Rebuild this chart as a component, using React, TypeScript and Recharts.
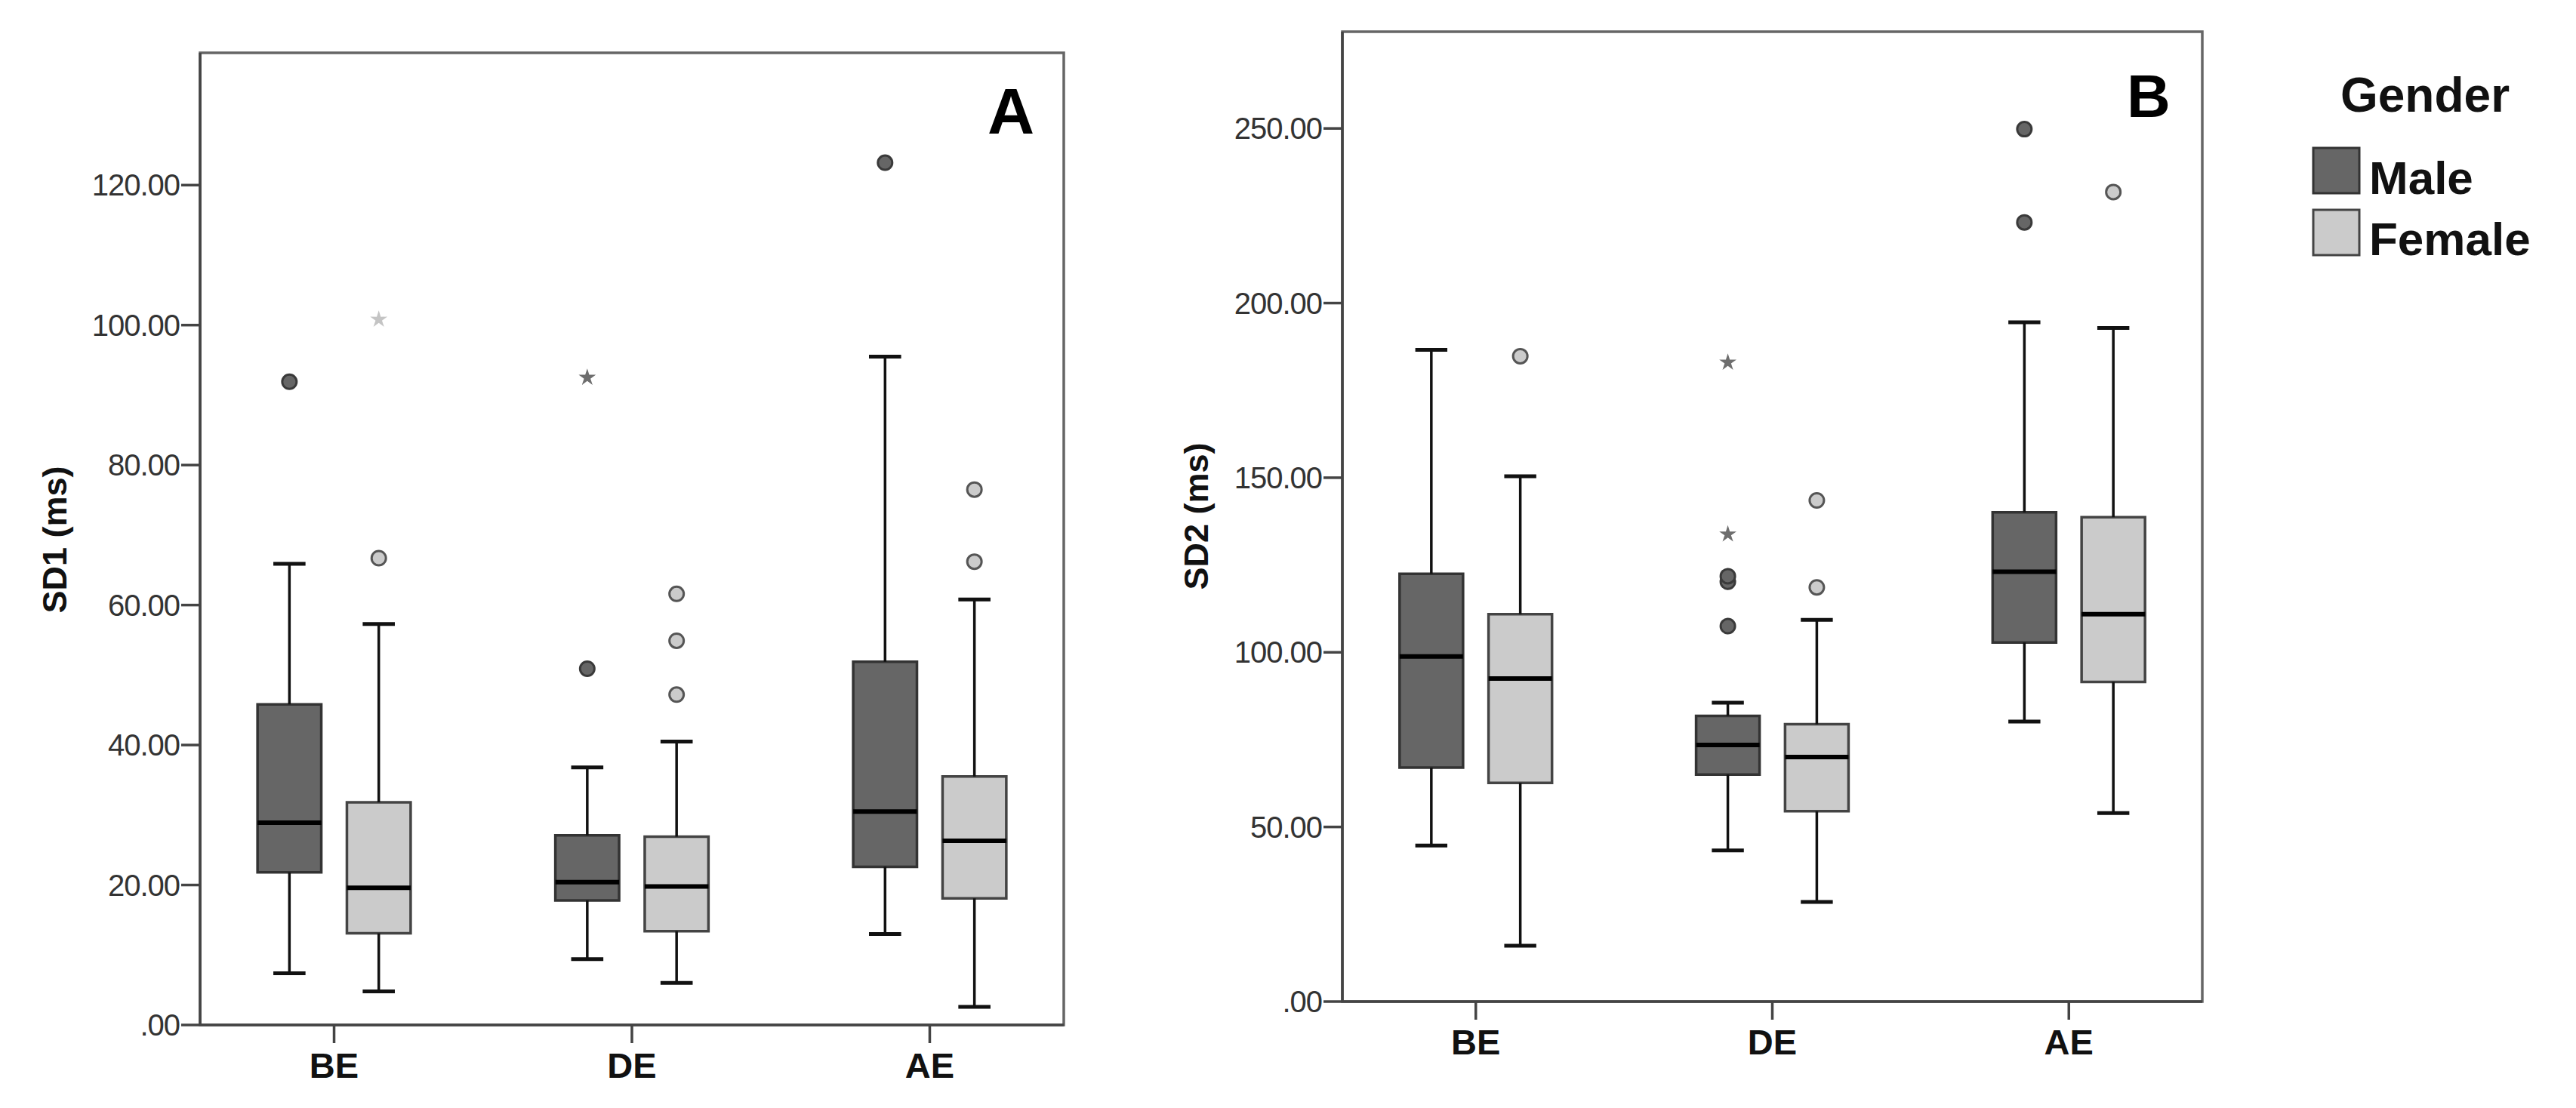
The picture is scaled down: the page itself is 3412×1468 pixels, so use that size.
import React from "react";
import {
  ComposedChart,
  XAxis,
  YAxis,
  Scatter,
  ReferenceArea,
  ReferenceLine,
} from "recharts";

// phases on the x axis
const CATEGORIES = ["BE", "DE", "AE"];

// five-number summaries: [min, q1, median, q3, max]
const SD1_MALE = [
  [7.4, 21.8, 28.9, 45.8, 65.9],
  [9.4, 17.8, 20.4, 27.1, 36.8],
  [13.0, 22.6, 30.5, 51.9, 95.5],
];
const SD1_FEMALE = [
  [4.8, 13.1, 19.6, 31.8, 57.3],
  [6.0, 13.4, 19.8, 26.9, 40.5],
  [2.6, 18.1, 26.3, 35.5, 60.8],
];
const SD2_MALE = [
  [44.7, 67.0, 98.8, 122.5, 186.6],
  [43.3, 65.0, 73.5, 81.8, 85.6],
  [80.2, 102.8, 123.1, 140.1, 194.5],
];
const SD2_FEMALE = [
  [16.0, 62.6, 92.5, 110.9, 150.4],
  [28.5, 54.5, 70.0, 79.4, 109.3],
  [54.0, 91.5, 110.9, 138.7, 192.9],
];

// outliers per category: circles (mild) and stars (extreme)
const SD1_MALE_CIRCLES = [[91.9], [50.9], [123.2]];
const SD1_MALE_STARS = [[], [92.5], []];
const SD1_FEMALE_CIRCLES = [[66.7], [47.2, 54.9, 61.6], [66.2, 76.5]];
const SD1_FEMALE_STARS = [[100.8], [], []];
const SD2_MALE_CIRCLES = [[], [107.5, 120.2, 121.8], [223.1, 249.8]];
const SD2_MALE_STARS = [[], [133.8, 183.0], []];
const SD2_FEMALE_CIRCLES = [[184.8], [118.6, 143.5], [231.8]];
const SD2_FEMALE_STARS = [[], [], []];

const SD1_TICKS = [0, 20, 40, 60, 80, 100, 120];
const SD2_TICKS = [0, 50, 100, 150, 200, 250];

const SERIES = [
  { name: "Male", fill: "#666666", stroke: "#333333", offset: -0.15, starFill: "#6e6e6e" },
  { name: "Female", fill: "#cbcbcb", stroke: "#444444", offset: 0.15, starFill: "#c4c4c4" },
];

const HALF_BOX = 0.107;
const HALF_CAP = 0.054;
const X_DOMAIN = [-0.45, 2.45];
const FONT = "'Liberation Sans', Arial, sans-serif";

function fmtTick(v: number) {
  return v === 0 ? ".00" : v.toFixed(2);
}

function outlierPoints(circles: number[][], stars: number[][], offset: number) {
  const pts: { x: number; y: number; star: boolean }[] = [];
  circles.forEach((list, i) => list.forEach((y) => pts.push({ x: i + offset, y, star: false })));
  stars.forEach((list, i) => list.forEach((y) => pts.push({ x: i + offset, y, star: true })));
  return pts;
}

function starPath(cx: number, cy: number, ro: number, ri: number) {
  let d = "";
  for (let k = 0; k < 10; k++) {
    const r = k % 2 === 0 ? ro : ri;
    const a = -Math.PI / 2 + (k * Math.PI) / 5;
    d += (k === 0 ? "M" : "L") + (cx + r * Math.cos(a)) + "," + (cy + r * Math.sin(a));
  }
  return d + "Z";
}

function makeShape(fill: string, stroke: string, starFill: string) {
  return (props: any) => {
    const { cx, cy, payload } = props;
    if (payload.star) {
      return <path d={starPath(cx, cy, 12, 4.5)} fill={starFill} stroke="none" />;
    }
    return <circle cx={cx} cy={cy} r={9.5} fill={fill} stroke={stroke} strokeWidth={3} />;
  };
}

function boxes(stats: number[][], s: (typeof SERIES)[number], key: string) {
  const out: React.ReactNode[] = [];
  stats.forEach(([min, q1, med, q3, max], i) => {
    const c = i + s.offset;
    out.push(
      <ReferenceLine key={`${key}-wu${i}`} segment={[{ x: c, y: q3 }, { x: c, y: max }]} stroke="#111" strokeWidth={3.5} />,
      <ReferenceLine key={`${key}-wl${i}`} segment={[{ x: c, y: min }, { x: c, y: q1 }]} stroke="#111" strokeWidth={3.5} />,
      <ReferenceLine key={`${key}-cu${i}`} segment={[{ x: c - HALF_CAP, y: max }, { x: c + HALF_CAP, y: max }]} stroke="#111" strokeWidth={5} />,
      <ReferenceLine key={`${key}-cl${i}`} segment={[{ x: c - HALF_CAP, y: min }, { x: c + HALF_CAP, y: min }]} stroke="#111" strokeWidth={5} />,
      <ReferenceArea key={`${key}-b${i}`} x1={c - HALF_BOX} x2={c + HALF_BOX} y1={q1} y2={q3} fill={s.fill} fillOpacity={1} stroke={s.stroke} strokeWidth={3.5} />,
      <ReferenceLine key={`${key}-m${i}`} segment={[{ x: c - HALF_BOX, y: med }, { x: c + HALF_BOX, y: med }]} stroke="#000" strokeWidth={6} />
    );
  });
  return out;
}

interface PanelProps {
  width: number;
  margin: { top: number; right: number; bottom: number; left: number };
  yMax: number;
  ticks: number[];
  male: number[][];
  female: number[][];
  maleOut: { x: number; y: number; star: boolean }[];
  femaleOut: { x: number; y: number; star: boolean }[];
}

function Panel({ width, margin, yMax, ticks, male, female, maleOut, femaleOut }: PanelProps) {
  const [m, f] = SERIES;
  return (
    <ComposedChart width={width} height={1468} margin={margin}>
      <XAxis
        type="number"
        dataKey="x"
        domain={X_DOMAIN}
        ticks={[0, 1, 2]}
        allowDataOverflow
        tickFormatter={(i: number) => CATEGORIES[i]}
        height={80}
        tickSize={24}
        tickMargin={13}
        axisLine={{ stroke: "#444", strokeWidth: 3.5 }}
        tickLine={{ stroke: "#444", strokeWidth: 3.5 }}
        tick={{ fill: "#111", fontSize: 47, fontWeight: 700, fontFamily: FONT }}
      />
      <YAxis
        type="number"
        dataKey="y"
        domain={[0, yMax]}
        ticks={ticks}
        allowDataOverflow
        tickFormatter={fmtTick}
        width={200}
        tickSize={25}
        tickMargin={2}
        axisLine={{ stroke: "#444", strokeWidth: 3.5 }}
        tickLine={{ stroke: "#444", strokeWidth: 3.5 }}
        tick={{ fill: "#333", fontSize: 40, fontFamily: FONT, letterSpacing: -1 }}
      />
      <ReferenceArea x1={X_DOMAIN[0]} x2={X_DOMAIN[1]} y1={0} y2={yMax} fill="none" stroke="#666" strokeWidth={3.5} />
      {boxes(male, m, "m")}
      {boxes(female, f, "f")}
      <Scatter data={maleOut} isAnimationActive={false} shape={makeShape(m.fill, "#3a3a3a", m.starFill)} />
      <Scatter data={femaleOut} isAnimationActive={false} shape={makeShape(f.fill, "#555", f.starFill)} />
    </ComposedChart>
  );
}

export default function App() {
  return (
    <div style={{ position: "absolute", left: 0, top: 0, width: 3412, height: 1468, background: "#fff", overflow: "hidden" }}>
      <div style={{ position: "absolute", left: 0, top: 0 }}>
        <Panel
          width={1450}
          margin={{ top: 70, right: 41, bottom: 30, left: 65 }}
          yMax={138.9}
          ticks={SD1_TICKS}
          male={SD1_MALE}
          female={SD1_FEMALE}
          maleOut={outlierPoints(SD1_MALE_CIRCLES, SD1_MALE_STARS, SERIES[0].offset)}
          femaleOut={outlierPoints(SD1_FEMALE_CIRCLES, SD1_FEMALE_STARS, SERIES[1].offset)}
        />
      </div>
      <div style={{ position: "absolute", left: 1450, top: 0 }}>
        <Panel
          width={1520}
          margin={{ top: 42, right: 53, bottom: 61, left: 128 }}
          yMax={277.7}
          ticks={SD2_TICKS}
          male={SD2_MALE}
          female={SD2_FEMALE}
          maleOut={outlierPoints(SD2_MALE_CIRCLES, SD2_MALE_STARS, SERIES[0].offset)}
          femaleOut={outlierPoints(SD2_FEMALE_CIRCLES, SD2_FEMALE_STARS, SERIES[1].offset)}
        />
      </div>
      <svg width={3412} height={1468} style={{ position: "absolute", left: 0, top: 0, pointerEvents: "none" }} fontFamily={FONT}>
        <text x={72} y={715} transform="rotate(-90 72 715)" textAnchor="middle" dominantBaseline="central" fontSize={45} fontWeight={700} fill="#111">
          SD1 (ms)
        </text>
        <text x={1584} y={684} transform="rotate(-90 1584 684)" textAnchor="middle" dominantBaseline="central" fontSize={45} fontWeight={700} fill="#111">
          SD2 (ms)
        </text>
        <text x={1308} y={177} fontSize={86} fontWeight={700} fill="#000">A</text>
        <text x={2817} y={155} fontSize={80} fontWeight={700} fill="#000">B</text>
        <text x={3212} y={148} textAnchor="middle" fontSize={64} fontWeight={700} fill="#111">Gender</text>
        {SERIES.map((s, i) => (
          <g key={s.name}>
            <rect x={3064} y={196 + i * 82} width={61} height={60} fill={s.fill} stroke={s.stroke} strokeWidth={3} />
            <text x={3138} y={257 + i * 81} fontSize={62} fontWeight={700} fill="#111">{s.name}</text>
          </g>
        ))}
      </svg>
    </div>
  );
}
